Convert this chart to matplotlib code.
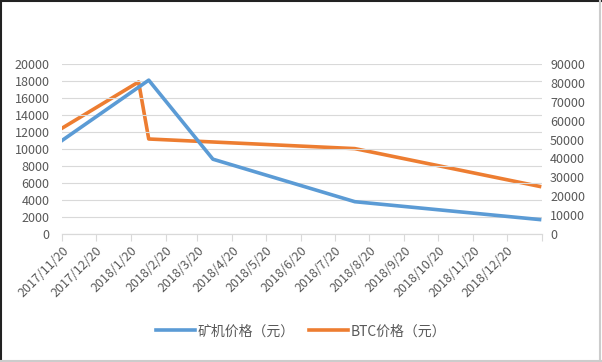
import matplotlib.pyplot as plt
import matplotlib.transforms as mtransforms
from matplotlib.lines import Line2D
import pandas as pd

plt.rcParams['font.family'] = ['Noto Sans CJK SC', 'DejaVu Sans']

# 矿机价格 (left axis)
miner_dates = ['2017-11-20', '2018-02-05', '2018-04-03', '2018-08-07', '2019-01-18']
miner_price = [11000, 18100, 8800, 3800, 1700]
# BTC价格 (right axis)
btc_dates = ['2017-11-20', '2018-01-27', '2018-02-05', '2018-08-07', '2019-01-18']
btc_price = [56000, 80500, 50300, 45200, 25200]

tick_dates = ['2017-11-20', '2017-12-20', '2018-01-20', '2018-02-20', '2018-03-20',
              '2018-04-20', '2018-05-20', '2018-06-20', '2018-07-20', '2018-08-20',
              '2018-09-20', '2018-10-20', '2018-11-20', '2018-12-20', '2019-01-20']
tick_labels = ['2017/11/20', '2017/12/20', '2018/1/20', '2018/2/20', '2018/3/20',
               '2018/4/20', '2018/5/20', '2018/6/20', '2018/7/20', '2018/8/20',
               '2018/9/20', '2018/10/20', '2018/11/20', '2018/12/20', '']

blue = '#5B9BD5'
orange = '#ED7D31'
txt = '#595959'

fig = plt.figure(figsize=(6.02, 3.62), dpi=100)
ax = fig.add_axes([0.103, 0.3536, 0.797, 0.4696])
ax2 = ax.twinx()

l1, = ax.plot(pd.to_datetime(miner_dates), miner_price, color=blue, lw=2.6,
              solid_joinstyle='round', label='矿机价格（元）')
l2, = ax2.plot(pd.to_datetime(btc_dates), btc_price, color=orange, lw=2.6,
               solid_joinstyle='round', label='BTC价格（元）')
ax.set_zorder(ax2.get_zorder() + 1)
ax.patch.set_visible(False)

ax.set_ylim(0, 20000)
ax.set_yticks(range(0, 20001, 2000))
ax2.set_ylim(0, 90000)
ax2.set_yticks(range(0, 90001, 10000))
ax.set_xlim(pd.Timestamp('2017-11-20'), pd.Timestamp('2019-01-20'))
ax.set_xticks(pd.to_datetime(tick_dates))
ax.set_xticklabels(tick_labels, rotation=45, ha='right', rotation_mode='anchor')
shift = mtransforms.ScaledTranslation(7 / 100, -4 / 100, fig.dpi_scale_trans)
for lab in ax.get_xticklabels():
    lab.set_transform(lab.get_transform() + shift)

ax.grid(axis='y', color='#d9d9d9', lw=0.8)
ax.set_axisbelow(True)
for a in (ax, ax2):
    for s in ('top', 'left', 'right'):
        a.spines[s].set_visible(False)
    a.spines['bottom'].set_color('#d9d9d9')
ax.tick_params(axis='y', length=0, pad=9, labelsize=9, labelcolor=txt)
ax2.tick_params(axis='y', length=0, pad=6, labelsize=9, labelcolor=txt)
ax.tick_params(axis='x', length=5, color='#d9d9d9', labelsize=9, labelcolor=txt, pad=2)

fig.legend(handles=[l1, l2], loc='center', bbox_to_anchor=(0.5, 0.085), ncol=2,
           frameon=False, fontsize=10, handlelength=2.8, columnspacing=1.0,
           handletextpad=0.2, labelcolor=txt)

# outer border
fig.add_artist(Line2D([0, 1], [0.997, 0.997], transform=fig.transFigure, color='#222222', lw=1.5))
fig.add_artist(Line2D([0.002, 0.002], [0, 1], transform=fig.transFigure, color='#222222', lw=1.5))
fig.add_artist(Line2D([0.997, 0.997], [0, 1], transform=fig.transFigure, color='#cccccc', lw=1.5))
fig.add_artist(Line2D([0, 1], [0.004, 0.004], transform=fig.transFigure, color='#cccccc', lw=1.5))

fig.savefig('out.png', dpi=100)
